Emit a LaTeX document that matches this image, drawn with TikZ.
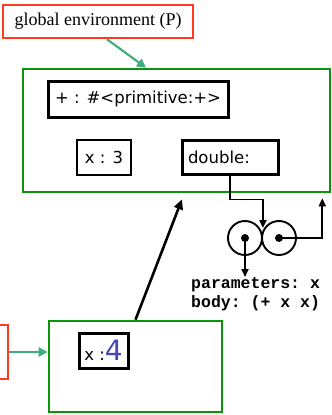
\documentclass[tikz,border=0pt]{standalone}
\usepackage{fontspec}
\setmainfont{Liberation Serif}
\setsansfont{DejaVu Sans}
\setmonofont{Liberation Mono}
\usetikzlibrary{arrows.meta,calc}
\definecolor{envred}{HTML}{FF3B1F}
\definecolor{frame}{HTML}{0A960A}
\definecolor{link}{HTML}{3FAE7E}
\definecolor{val}{HTML}{4747B5}
\tikzset{
  lab/.style={draw=envred, line width=2.6pt, inner sep=0pt, font=\fontsize{18}{18}\selectfont},
  envframe/.style={draw=frame, line width=2.6pt, inner sep=0pt},
  bind/.style={draw=black, line width=3pt, inner sep=0pt, font=\sffamily\fontsize{16.5}{16.5}\selectfont},
  cell/.style={circle, draw, line width=1.9pt, minimum size=34pt, inner sep=0pt},
  dot/.style={circle, fill, minimum size=8pt, inner sep=0pt},
  ptr/.style={line width=1.9pt, -{Triangle[length=8pt,width=7pt]}},
  envptr/.style={draw=link, line width=2.2pt, -{Triangle[length=9pt,width=9pt]}},
}

\begin{document}
\begin{tikzpicture}[x=1pt,y=-1pt]
  \useasboundingbox (0,0) rectangle (332,415);

  % global environment
  \node[lab, minimum width=190pt, minimum height=33pt] (glob) at (98,21.5) {global environment (P)};
  \node[envframe, minimum width=307pt, minimum height=123pt] (gframe) at (176.5,130.5) {};
  \node[bind, minimum width=180pt, minimum height=36pt] (prim) at (138,99) {+ : \#<primitive:+>};
  \node[bind, line width=2.2pt, minimum width=54pt, minimum height=35pt] (xthree) at (104,157.5) {x : 3};
  \node[bind, minimum width=96pt, minimum height=34pt, text width=84pt, align=left] (dbl) at (230,157) {double:};

  % procedure object
  \node[cell] (lc) at (245,238) {};
  \node[cell] (rc) at (279,238) {};
  \node[dot] (ld) at (lc.center) {};
  \node[dot] (rd) at (rc.center) {};
  \node[anchor=north west, align=left, inner sep=0pt,
        font=\ttfamily\bfseries\fontsize{16.5}{19}\selectfont] (code) at (191,277)
        {parameters: x\\body: (+ x x)};

  % new environment
  \node[envframe, minimum width=173pt, minimum height=91pt] (lower) at (135.5,366.5) {};
  \node[bind, minimum width=49pt, minimum height=35pt] (xfour) at (103.5,350.5)
        {x :\textcolor{val}{\fontsize{28}{28}\selectfont 4}};
  \node[lab, minimum width=116pt, minimum height=54pt] (newlab) at (-50,352) {};

  % pointers
  \draw[envptr] ([xshift=9pt]glob.south) -- ([xshift=-30.5pt]gframe.north);
  \draw[envptr] (newlab.east) -- (newlab.east -| lower.west);
  \draw[ptr] (dbl.south) -- ++(0,24) -| ([yshift=10pt]lc.east);
  \draw[ptr] (rd.center) -| ([xshift=-9pt,yshift=-5pt]gframe.south east);
  \draw[ptr] (ld.center) -- (ld.center |- code.north);
  \draw[line width=2.6pt, -{Triangle[length=10pt,width=9pt]}] (lower.north) -- ([xshift=5.5pt,yshift=-6pt]gframe.south);
\end{tikzpicture}
\end{document}
